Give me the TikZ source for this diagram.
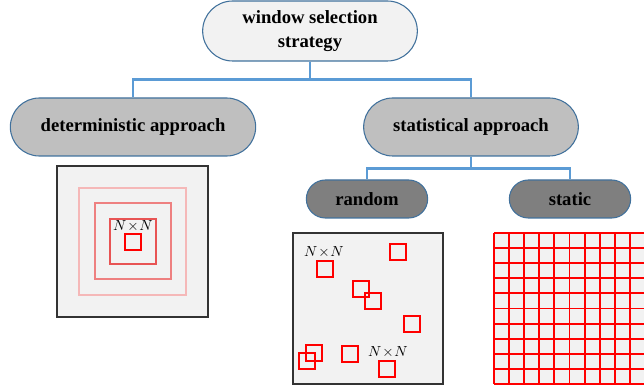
\documentclass[tikz,border=0pt]{standalone}
\usepackage{fontspec}
\setmainfont{Liberation Serif}
\usepackage{xcolor}
\usepackage{tikz}
\usetikzlibrary{positioning}

\definecolor{linkblue}{HTML}{5B9BD5}
\definecolor{edgeblue}{HTML}{41719C}
\definecolor{paper}{HTML}{F2F2F2}
\definecolor{midgray}{HTML}{BFBFBF}
\definecolor{darkgray}{HTML}{7F7F7F}
\definecolor{ring1}{HTML}{F5B8B8}
\definecolor{ring2}{HTML}{EE8080}
\definecolor{ring3}{HTML}{E85454}
\definecolor{winred}{HTML}{FF0000}

\begin{document}
\begin{tikzpicture}[x=0.75pt, y=-0.75pt,
                    box/.style={draw=edgeblue, line width=0.8pt, inner sep=0pt, align=center,
                                font=\fontsize{14}{18}\selectfont\bfseries},
                    rootbox/.style={box, fill=paper, minimum width=161pt, minimum height=45pt, rounded corners=22.5pt},
                    approach/.style={box, fill=midgray, minimum width=184pt, minimum height=43.5pt, rounded corners=21.75pt},
                    kind/.style={box, fill=darkgray, minimum width=91pt, minimum height=28.5pt, rounded corners=14.25pt},
                    link/.style={linkblue, line width=1.9pt},
                    panel/.style={draw=black!80, line width=0.8pt, fill=paper},
                    win/.style={winred, line width=2pt},
                    cell/.style={winred, line width=1.4pt},
                    size/.style={font=\fontsize{11}{12}\selectfont, inner sep=1pt},
                   ]

\useasboundingbox (0,0) rectangle (644,392);

% tree
\node[rootbox]  (root) at (310,31) {window selection\\strategy};
\node[approach] (det)  at (133,127)  {deterministic approach};
\node[approach, minimum width=161pt] (stat) at (471,127) {statistical approach};
\node[kind] (rnd) at (367,199) {random};
\node[kind] (sta) at (570,199) {static};

\draw[link] (root.south) -- ++(0,18) -| (det.north);
\draw[link] (root.south) -- ++(0,18) -| (stat.north);
\draw[link] (stat.south) -- ++(0,12) -| (rnd.north);
\draw[link] (stat.south) -- ++(0,12) -| (sta.north);

% growing windows
\draw[panel] (57,166) rectangle (208,317);
\draw[ring1, line width=1.6pt] (79,188) rectangle (186,295);
\draw[ring2, line width=1.6pt] (95,203) rectangle (171,279);
\draw[ring3, line width=1.6pt] (110,219) rectangle (156,264);
\draw[win] (125,234) rectangle (141,250);
\node[size] (detsize) at (133,226) {$N\!\times\!N$};

% random windows
\draw[panel] (293,233) rectangle (443,384);
\foreach \cx/\cy in {325/269, 398/252, 361/289, 373/301, 412/324, 314/353, 307/361, 350/354, 387/369}
  \draw[win] (\cx-8,\cy-8) rectangle (\cx+8,\cy+8);
\node[size] (rndsizea) at (324,252) {$N\!\times\!N$};
\node[size] (rndsizeb) at (388,352) {$N\!\times\!N$};

% static grid
\fill[paper] (494,233) rectangle (645,384);
\foreach \i in {0,...,10}
  \draw[cell] ({494+15.1*\i},233) -- ({494+15.1*\i},384);
\foreach \j in {0,...,10}
  \draw[cell] (494,{233+15.1*\j}) -- (645,{233+15.1*\j});

\end{tikzpicture}
\end{document}
